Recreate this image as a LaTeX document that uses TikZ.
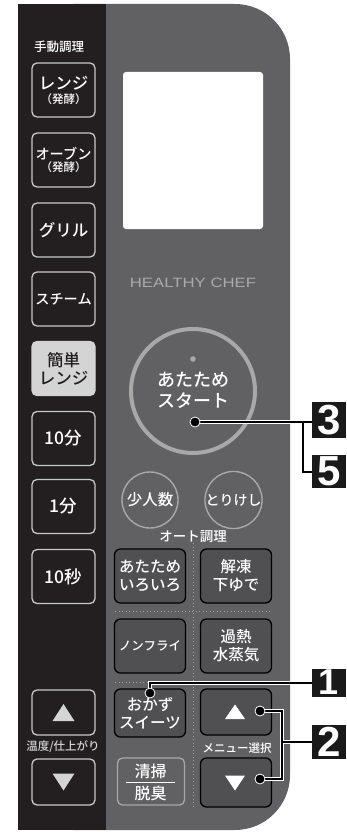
\documentclass[tikz,border=0pt]{standalone}
\usepackage{fontspec}
\usepackage{graphicx}
\setmainfont{Noto Sans CJK JP}[UprightFont={* Medium}, BoldFont={* Bold}]
\newfontfamily\latinfont{Liberation Sans}
\usetikzlibrary{calc}
\definecolor{panelgray}{RGB}{97,97,99}
\definecolor{stripdark}{RGB}{35,31,32}
\definecolor{btnline}{RGB}{200,200,200}
\definecolor{ringgray}{RGB}{168,168,168}
\definecolor{menufill}{RGB}{80,80,82}
\definecolor{lightfill}{RGB}{212,212,212}
\definecolor{logogray}{RGB}{170,170,170}
\definecolor{labelblack}{RGB}{26,26,26}
\definecolor{dotgray}{RGB}{160,160,160}
\begin{document}
\begin{tikzpicture}[x=1pt,y=-1pt,
  lbtn/.style={draw=btnline, line width=1.3pt, rounded corners=5pt, fill=stripdark,
    minimum width=63pt, minimum height=54pt, inner sep=0pt, text=white, align=center,
    font=\fontsize{16.5}{18}\selectfont},
  mbtn/.style={draw=black, line width=1.3pt, rounded corners=6pt, fill=menufill,
    minimum width=71pt, minimum height=54pt, inner sep=0pt, text=white, align=center,
    font=\fontsize{15.5}{18}\selectfont},
  cbtn/.style={circle, draw=ringgray, line width=1.4pt, minimum size=56pt, inner sep=0pt,
    text=white},
  numlabel/.style={fill=labelblack, text=white, minimum width=34pt, inner sep=0pt,
    font=\latinfont\bfseries\fontsize{42}{42}\selectfont},
  dotmark/.style={circle, fill=black, draw=white, line width=0.8pt, minimum size=10pt, inner sep=0pt},
  sep/.style={draw=dotgray, line width=1pt, dash pattern=on 1pt off 2.5pt},
  halo/.style={draw=white, line width=4pt},
  wire/.style={draw=black, line width=2pt},
  tri/.style={fill=lightfill}
]
\useasboundingbox (0,0) rectangle (346,832);
% panel
\fill[panelgray, rounded corners=55pt] (18,4) rectangle (290,830);
\fill[stripdark] (18,4) rectangle (106,830);

% left column
\node[text=white, font=\fontsize{12.5}{13}\selectfont] (manual) at (59,47) {手動調理};
\node[lbtn] (range) at (63.5,90) {レンジ\\[-4pt]{\fontsize{11.5}{12}\selectfont （発酵）}};
\node[lbtn, font=\fontsize{14.2}{16}\selectfont] (oven) at (63.5,160) {オーブン\\[-4pt]{\fontsize{11.5}{12}\selectfont （発酵）}};
\node[lbtn] (grill) at (63.5,230) {グリル};
\node[lbtn, font=\fontsize{14.2}{16}\selectfont] (steam) at (63.5,299) {スチーム};
\node[lbtn, fill=lightfill, draw=lightfill, text=stripdark] (easy) at (63.5,368.5) {簡単\\レンジ};
\node[lbtn, font=\fontsize{17.5}{18}\selectfont] (m10) at (63.5,438.5) {10分};
\node[lbtn, font=\fontsize{17.5}{18}\selectfont] (m1) at (63.5,506.5) {1分};
\node[lbtn, font=\fontsize{17.5}{18}\selectfont] (s10) at (63.5,576.5) {10秒};
\node[lbtn, minimum height=45pt] (tup) at (63.5,712.5) {};
\node[text=lightfill, font=\fontsize{11.5}{12}\selectfont] (templbl) at (63,747) {温度/仕上がり};
\node[lbtn, minimum height=46pt] (tdn) at (63.5,782) {};
\fill[tri] ($(tup)+(0,-8.5)$) -- ($(tup)+(11,8.5)$) -- ($(tup)+(-11,8.5)$) -- cycle;
\fill[tri] ($(tdn)+(0,8.5)$) -- ($(tdn)+(11,-8.5)$) -- ($(tdn)+(-11,-8.5)$) -- cycle;

% display and logo
\fill[white, rounded corners=3pt] (123,72) rectangle (263,229);
\node[text=logogray, font=\latinfont\fontsize{13.5}{14}\selectfont] (logo) at (193,283) {\scalebox{1.24}[1]{HEALTHY CHEF}};

% start button
\node[circle, draw=ringgray, line width=4pt, minimum size=124pt, inner sep=0pt] (start) at (193,391) {};
\fill[ringgray] (193,359) circle (2.8pt);
\node[text=white, align=center, font=\fontsize{18}{21}\selectfont] (starttxt) at (193,390) {あたため\\スタート};

% round buttons
\node[cbtn, font=\fontsize{15.5}{16}\selectfont] (few) at (150,500) {少人数};
\node[cbtn, font=\fontsize{14}{15}\selectfont] (cancel) at (233.5,500) {とりけし};
\node[text=white, font=\fontsize{13.5}{14}\selectfont] (auto) at (193,537) {オート調理};

% separators
\draw[sep] (193,543) -- (193,808);
\draw[sep] (115,611) -- (272,611);
\draw[sep] (115,682) -- (272,682);

% menu buttons
\node[mbtn] (warm) at (150,576) {あたため\\いろいろ};
\node[mbtn] (thaw) at (236,576) {解凍\\下ゆで};
\node[mbtn, font=\fontsize{12.5}{14}\selectfont] (nonfry) at (150,646) {ノンフライ};
\node[mbtn] (steamx) at (236,646) {過熱\\水蒸気};
\node[mbtn, minimum height=48pt] (okazu) at (150,713) {おかず\\スイーツ};
\node[mbtn, minimum height=46pt] (mup) at (236,712) {};
\node[text=white, font=\fontsize{11.5}{12}\selectfont] (menusel) at (237,748) {メニュー選択};
\node[mbtn, minimum height=49pt] (mdn) at (236,782.5) {};
\fill[white] ($(mup)+(-1,-7.5)$) -- ($(mup)+(9,7)$) -- ($(mup)+(-11,7)$) -- cycle;
\fill[white] ($(mdn)+(-1,8)$) -- ($(mdn)+(9,-7)$) -- ($(mdn)+(-11,-7)$) -- cycle;
\node[draw=ringgray, line width=1.3pt, rounded corners=5pt, minimum width=67pt, minimum height=47pt] (clean) at (151,781.5) {};
\node[text=white, font=\fontsize{16}{16}\selectfont] (cleantop) at (150.5,771) {清掃};
\node[text=white, font=\fontsize{16}{16}\selectfont] (cleanbot) at (150.5,793) {脱臭};
\draw[white, line width=1pt] (126,782) -- (175,782);

% labels
\node[numlabel, minimum height=36pt] (b3) at (329,420) {3};
\node[numlabel, minimum height=33pt] (b5) at (329,471.5) {5};
\node[numlabel, minimum height=28pt, font=\latinfont\bfseries\fontsize{36}{36}\selectfont] (b1) at (329,682.5) {1};
\node[numlabel, minimum height=34pt] (b2) at (329,742) {2};

% connector anchors
\coordinate (d3) at (195,422);
\coordinate (j3) at (303,422);
\coordinate (d1) at (150,693);
\coordinate (du) at (260,711);
\coordinate (dd) at (260,779);
\coordinate (ju) at (282,711);
\coordinate (jd) at (282,779);
\coordinate (j2) at (282,742);
\newcommand\connpaths[1]{%
  \draw[#1] (d3) -- (d3 -| b3.west);
  \draw[#1] (j3) |- (b5.west);
  \draw[#1] (d1) |- (b1.west);
  \draw[#1] (du) -- (ju) -- (jd) -- (dd);
  \draw[#1] (j2) -- (b2.west);
}
\connpaths{halo}
\connpaths{wire}
\node[dotmark] (dot3) at (d3) {};
\node[dotmark] (dot1) at (d1) {};
\node[dotmark] (dotu) at (du) {};
\node[dotmark] (dotd) at (dd) {};
\end{tikzpicture}
\end{document}
